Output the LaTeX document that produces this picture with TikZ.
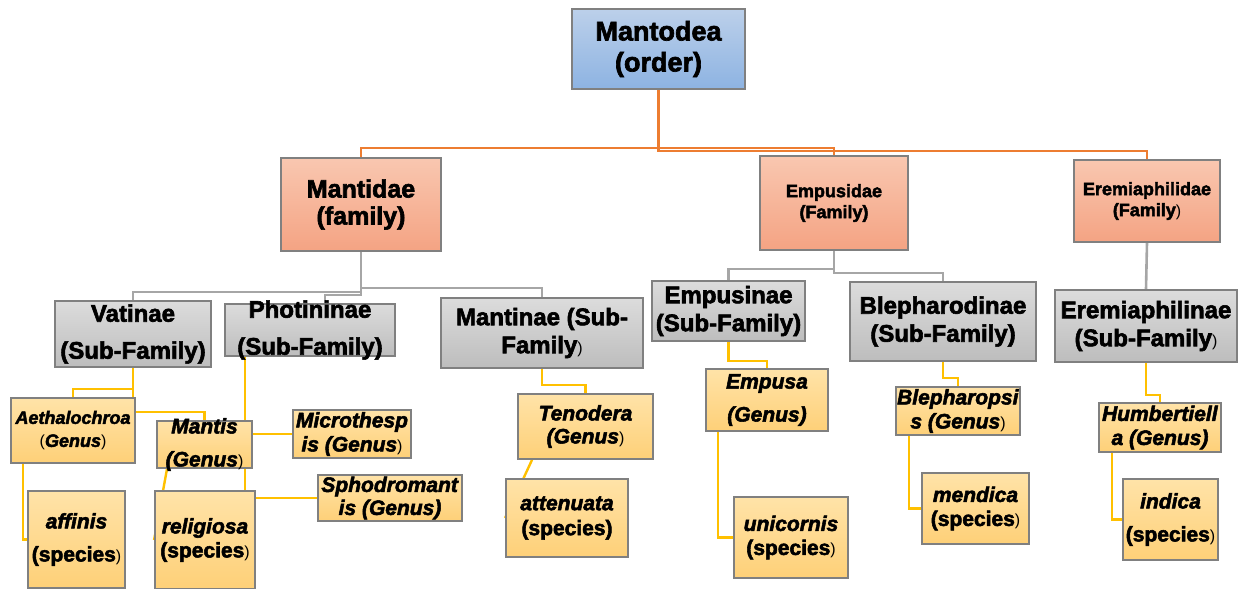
\documentclass[tikz,border=0pt]{standalone}
\usepackage{fontspec}
\setmainfont{Liberation Sans}[BoldFeatures={FakeBold=2.5}, BoldItalicFeatures={FakeBold=2.5}]
\usetikzlibrary{backgrounds}
\definecolor{ordtop}{HTML}{BCD0EA}
\definecolor{ordbot}{HTML}{8DB3E2}
\definecolor{famtop}{HTML}{F9C7B0}
\definecolor{fambot}{HTML}{F4A383}
\definecolor{subtop}{HTML}{DCDCDC}
\definecolor{subbot}{HTML}{BDBDBD}
\definecolor{gentop}{HTML}{FFE3A8}
\definecolor{genbot}{HTML}{FED078}
\definecolor{boxline}{HTML}{808080}
\definecolor{lineorange}{HTML}{ED7D31}
\definecolor{linegray}{HTML}{A6A6A6}
\definecolor{linegold}{HTML}{FFC000}
% small upright brackets, as printed in some labels
\newcommand{\smrp}{{\mdseries\upshape\footnotesize)}}
\newcommand{\smlp}{{\mdseries\upshape\footnotesize(}}
\tikzset{
  box/.style={draw=boxline, line width=0.9pt, align=center, inner sep=0.5pt,
    execute at begin node={\rule{0pt}{1.5em}}},
  sz/.style 2 args={minimum width=#1*0.5pt, minimum height=#2*0.5pt},
  ordbox/.style={box, top color=ordtop, bottom color=ordbot, font=\fontsize{13.5}{15.5}\selectfont\bfseries},
  fambox/.style={box, top color=famtop, bottom color=fambot, font=\fontsize{12.5}{13.5}\selectfont\bfseries},
  famsmall/.style={fambox, font=\fontsize{9}{10.5}\selectfont\bfseries},
  subbox/.style={box, top color=subtop, bottom color=subbot, font=\fontsize{12}{14}\selectfont\bfseries},
  subloose/.style={subbox, font=\fontsize{12}{18.5}\selectfont\bfseries},
  genbox/.style={box, top color=gentop, bottom color=genbot, font=\fontsize{10.5}{12}\selectfont\bfseries},
  genloose/.style={genbox, font=\fontsize{10.5}{16.5}\selectfont\bfseries},
  famline/.style={draw=lineorange, line width=1.1pt},
  subline/.style={draw=linegray, line width=1.3pt},
  genline/.style={draw=linegold, line width=1.2pt}
}
\begin{document}
\begin{tikzpicture}[x=0.5pt, y=-0.5pt]
  \useasboundingbox (0,0) rectangle (1238,589);
  % Order and families
  \node[ordbox, sz={173}{80}] (mantodea) at (658.5,49) {Mantodea\\(order)};
  \node[fambox, sz={160}{93}] (mantidae) at (361,204.5) {Mantidae\\(family)};
  \node[famsmall, sz={148}{94}] (empusidae) at (834,203) {Empusidae\\(Family)};
  \node[famsmall, sz={146}{82}] (eremiaphilidae) at (1147,201) {Eremiaphilidae\\(Family\smrp};
  % Sub-families
  \node[subloose, sz={156}{66}] (vatinae) at (133,334) {Vatinae\\(Sub-Family)};
  \node[subloose, sz={170}{52}, inner ysep=-3pt] (photininae) at (310,330) {Photininae\\(Sub-Family)};
  \node[subbox, sz={202}{70}] (mantinae) at (542,333) {Mantinae (Sub-\\Family\smrp};
  \node[subbox, sz={153}{60}] (empusinae) at (728.5,311) {Empusinae\\(Sub-Family)};
  \node[subbox, sz={186}{79}] (blepharodinae) at (943,321.5) {Blepharodinae\\(Sub-Family)};
  \node[subbox, sz={182}{72}] (eremiaphilinae) at (1146,326) {Eremiaphilinae\\(Sub-Family\smrp};
  % Genera
  \node[genbox, sz={124}{65}, font=\fontsize{9}{11.5}\selectfont\bfseries] (aethalochroa) at (73,430.5) {\textit{Aethalochroa}\\\smlp\textit{Genus}\smrp};
  \node[genloose, sz={95}{47}, inner ysep=-3pt] (mantis) at (204.5,444.5) {\textit{Mantis}\\\textit{(Genus}\smrp};
  \node[genbox, sz={118}{48}] (microthespis) at (352,434) {\textit{Microthesp}\\\textit{is (Genus}\smrp};
  \node[genbox, sz={144}{46}, font=\fontsize{10.5}{11.5}\selectfont\bfseries] (sphodromantis) at (390,498) {\textit{Sphodromant}\\\textit{is (Genus)}};
  \node[genbox, sz={135}{65}, font=\fontsize{10.5}{11.5}\selectfont\bfseries] (tenodera) at (585.5,426.5) {\textit{Tenodera}\\\textit{(Genus}\smrp};
  \node[genloose, sz={122}{62}] (empusa) at (767,400) {\textit{Empusa}\\\textit{(Genus)}};
  \node[genbox, sz={124}{48}] (blepharopsis) at (958,411) {\textit{Blepharopsi}\\\textit{s (Genus}\smrp};
  \node[genbox, sz={122}{49}] (humbertiella) at (1160,427.5) {\textit{Humbertiell}\\\textit{a (Genus)}};
  % Species
  \node[genloose, sz={97}{97}] (affinis) at (76.5,539.5) {\textit{affinis}\\(species\smrp};
  \node[genbox, sz={100}{98}] (religiosa) at (205,540) {\textit{religiosa}\\(species\smrp};
  \node[genbox, sz={122}{78}, font=\fontsize{10.5}{12.5}\selectfont\bfseries] (attenuata) at (567,518) {\textit{attenuata}\\(species)};
  \node[genbox, sz={114}{81}] (unicornis) at (791,537.5) {\textit{unicornis}\\(species\smrp};
  \node[genbox, sz={107}{71}] (mendica) at (975.5,508.5) {\textit{mendica}\\(species\smrp};
  \node[genloose, sz={95}{81}] (indica) at (1170.5,519.5) {\textit{indica}\\(species\smrp};
  % Connectors
  \begin{scope}[on background layer]
    \draw[famline] (mantodea.south) -- ++(0,58) -| (mantidae.north);
    \draw[famline] (mantodea.south) -- ++(0,58) -| (empusidae.north);
    \draw[famline] (mantodea.south) -- ++(0,61) -| (eremiaphilidae.north);
    \draw[subline] (mantidae.south) -- ++(0,40) -| (vatinae.north);
    \draw[subline] (mantidae.south) -- ++(0,43) -| ([xshift=7.5pt]photininae.north);
    \draw[subline] (mantidae.south) -- ++(0,36) -| (mantinae.north);
    \draw[subline] (empusidae.south) -- ++(0,18) -| (empusinae.north);
    \draw[subline] (empusidae.south) -- ++(0,22) -| (blepharodinae.north);
    \draw[subline] (eremiaphilidae.south) -- (eremiaphilinae.north);
    \draw[genline] (vatinae.south) -- ++(0,21) -| (aethalochroa.north);
    \draw[genline] (vatinae.south) -- ++(0,44) -| (mantis.north);
    \draw[genline] ([xshift=-32.5pt]photininae.south) -- ([xshift=20.25pt]mantis.north);
    \draw[genline] (mantis.east |- microthespis.west) -- (microthespis.west);
    \draw[genline] ([xshift=20.25pt]mantis.south) |- (sphodromantis.west);
    \draw[genline] ([xshift=-18.75pt]mantis.south) -- (religiosa.west);
    \draw[genline] ([xshift=-25pt]aethalochroa.south) |- (affinis.west);
    \draw[genline] (mantinae.south) -- ++(0,16) -| (tenodera.north);
    \draw[genline] ([xshift=-26.75pt]tenodera.south) -- (attenuata.west);
    \draw[genline] (empusinae.south) -- ++(0,19) -| (empusa.north);
    \draw[genline] ([xshift=-24.5pt]empusa.south) |- (unicornis.west);
    \draw[genline] (blepharodinae.south) -- ++(0,16) -| (blepharopsis.north);
    \draw[genline] ([xshift=-24.5pt]blepharopsis.south) |- (mendica.west);
    \draw[genline] (eremiaphilinae.south) -- ++(0,32) -| (humbertiella.north);
    \draw[genline] ([xshift=-24pt]humbertiella.south) |- (indica.west);
  \end{scope}
\end{tikzpicture}
\end{document}
